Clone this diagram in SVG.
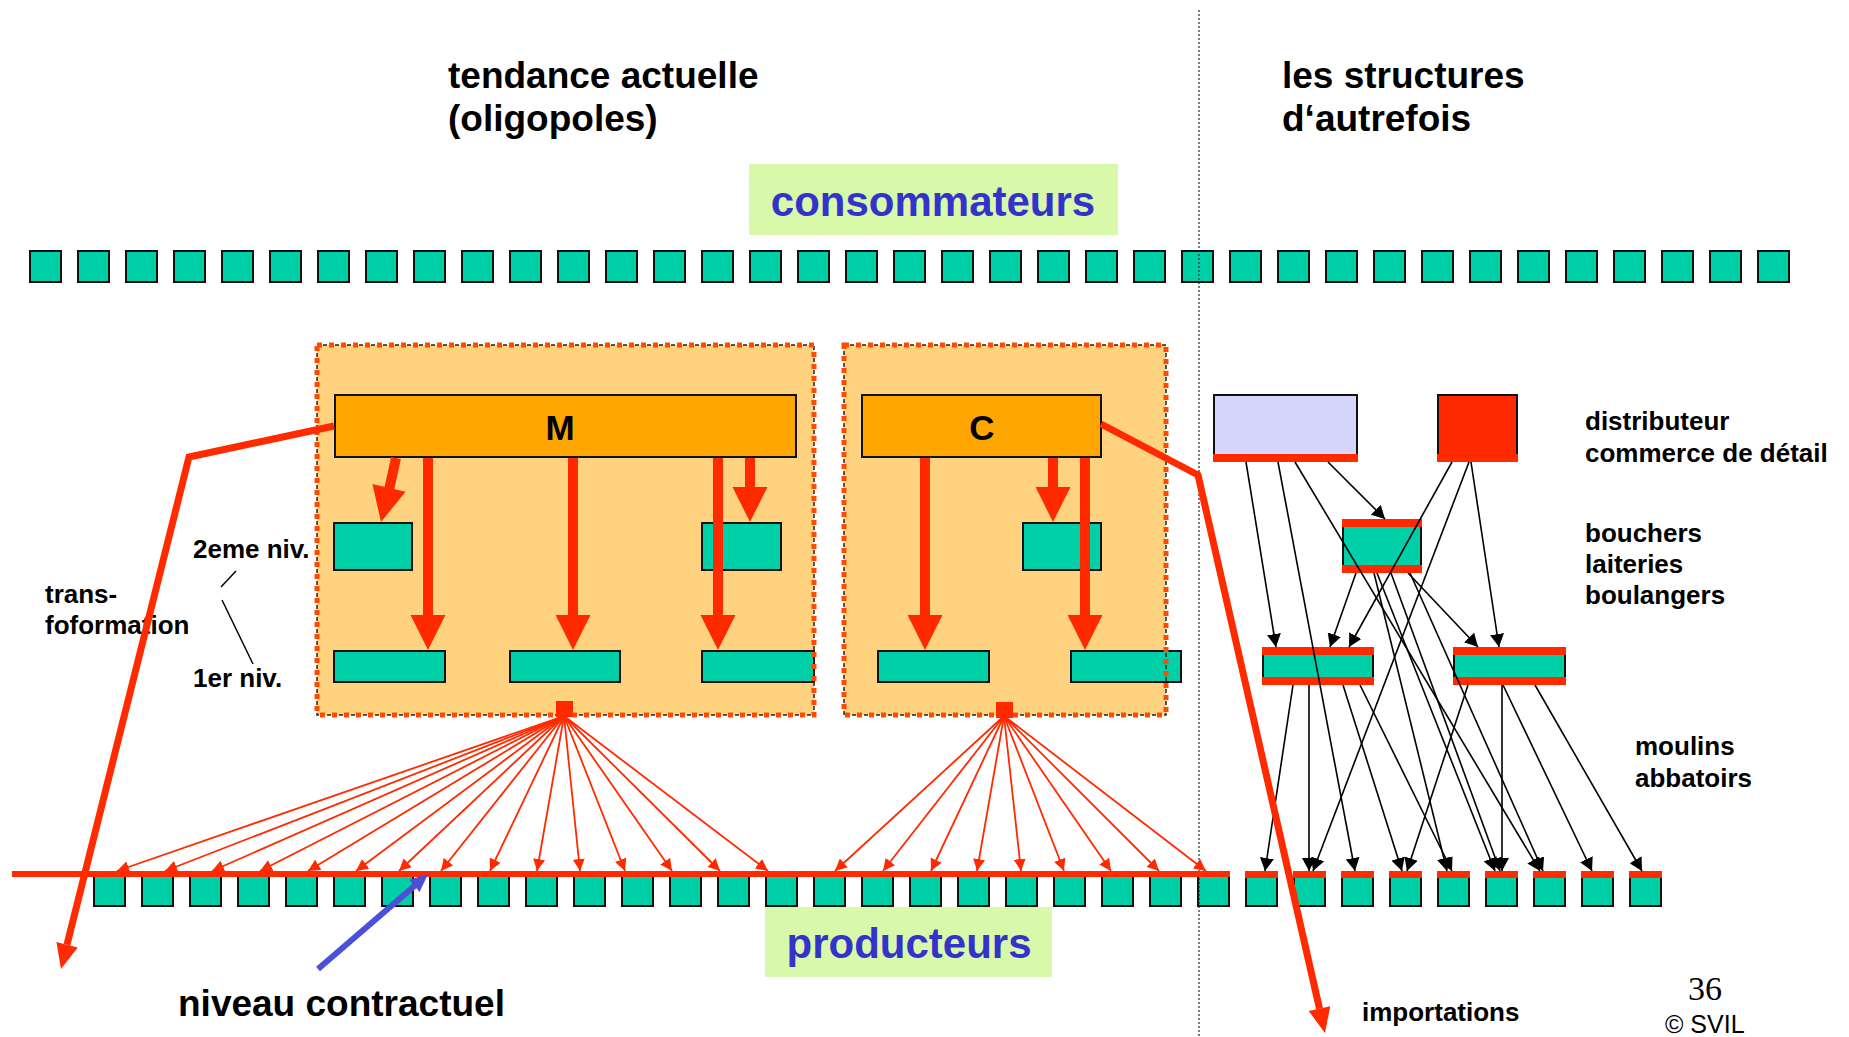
<svg xmlns="http://www.w3.org/2000/svg" width="1849" height="1037" viewBox="0 0 1849 1037">
<defs>
<style>
.sq{fill:#00D0A8;stroke:#111;stroke-width:2}
.org{fill:#FFA600;stroke:#111;stroke-width:2}
.cont{fill:#FFD27F}
.contb{fill:none;stroke:#222;stroke-width:1.5;stroke-dasharray:4 2}
.contd{fill:none;stroke:#FF4A00;stroke-width:5;stroke-dasharray:5 7}
.red{fill:#FF2A00}
.lav{fill:#D6D6FC;stroke:#111;stroke-width:2}
.rbox{fill:#FF2A00;stroke:#111;stroke-width:2}
.fan{stroke:#FF2A00;stroke-width:1.8;fill:none;marker-end:url(#rh)}
.blk{stroke:#000;stroke-width:1.6;fill:none;marker-end:url(#bh)}
.thick{stroke:#FF2A00;stroke-width:10;fill:none}
.big{stroke:#FF2A00;stroke-width:7;fill:none;stroke-linejoin:miter}
.t{font-family:"Liberation Sans",Arial,sans-serif;font-weight:bold;fill:#000}
.lbl{font-size:26px}
.ttl{font-size:37px}
.hdr{font-size:42px;fill:#3333CC}
.hbox{fill:#D7F9A9}
</style>
<marker id="rh" markerUnits="userSpaceOnUse" markerWidth="13" markerHeight="12" refX="12" refY="6" orient="auto"><path d="M0,0 L12,6 L0,12 z" fill="#FF2A00"/></marker>
<marker id="bh" markerUnits="userSpaceOnUse" markerWidth="14" markerHeight="14" refX="13" refY="7" orient="auto"><path d="M0,0 L13,7 L0,14 z" fill="#000"/></marker>
</defs>
<rect width="1849" height="1037" fill="#fff"/>

<g id="titles" class="t ttl">
<text x="448" y="88">tendance actuelle</text>
<text x="448" y="131">(oligopoles)</text>
<text x="1282" y="88">les structures</text>
<text x="1282" y="131">d‘autrefois</text>
</g>

<g id="consommateurs">
<rect class="hbox" x="749" y="164" width="369" height="71"/>
<text class="t hdr" x="933" y="216" text-anchor="middle">consommateurs</text>
</g>

<g id="consumers-row">
<rect id="c0" class="sq" x="30" y="251" width="31" height="31"/>
<rect id="c1" class="sq" x="78" y="251" width="31" height="31"/>
<rect id="c2" class="sq" x="126" y="251" width="31" height="31"/>
<rect id="c3" class="sq" x="174" y="251" width="31" height="31"/>
<rect id="c4" class="sq" x="222" y="251" width="31" height="31"/>
<rect id="c5" class="sq" x="270" y="251" width="31" height="31"/>
<rect id="c6" class="sq" x="318" y="251" width="31" height="31"/>
<rect id="c7" class="sq" x="366" y="251" width="31" height="31"/>
<rect id="c8" class="sq" x="414" y="251" width="31" height="31"/>
<rect id="c9" class="sq" x="462" y="251" width="31" height="31"/>
<rect id="c10" class="sq" x="510" y="251" width="31" height="31"/>
<rect id="c11" class="sq" x="558" y="251" width="31" height="31"/>
<rect id="c12" class="sq" x="606" y="251" width="31" height="31"/>
<rect id="c13" class="sq" x="654" y="251" width="31" height="31"/>
<rect id="c14" class="sq" x="702" y="251" width="31" height="31"/>
<rect id="c15" class="sq" x="750" y="251" width="31" height="31"/>
<rect id="c16" class="sq" x="798" y="251" width="31" height="31"/>
<rect id="c17" class="sq" x="846" y="251" width="31" height="31"/>
<rect id="c18" class="sq" x="894" y="251" width="31" height="31"/>
<rect id="c19" class="sq" x="942" y="251" width="31" height="31"/>
<rect id="c20" class="sq" x="990" y="251" width="31" height="31"/>
<rect id="c21" class="sq" x="1038" y="251" width="31" height="31"/>
<rect id="c22" class="sq" x="1086" y="251" width="31" height="31"/>
<rect id="c23" class="sq" x="1134" y="251" width="31" height="31"/>
<rect id="c24" class="sq" x="1182" y="251" width="31" height="31"/>
<rect id="c25" class="sq" x="1230" y="251" width="31" height="31"/>
<rect id="c26" class="sq" x="1278" y="251" width="31" height="31"/>
<rect id="c27" class="sq" x="1326" y="251" width="31" height="31"/>
<rect id="c28" class="sq" x="1374" y="251" width="31" height="31"/>
<rect id="c29" class="sq" x="1422" y="251" width="31" height="31"/>
<rect id="c30" class="sq" x="1470" y="251" width="31" height="31"/>
<rect id="c31" class="sq" x="1518" y="251" width="31" height="31"/>
<rect id="c32" class="sq" x="1566" y="251" width="31" height="31"/>
<rect id="c33" class="sq" x="1614" y="251" width="31" height="31"/>
<rect id="c34" class="sq" x="1662" y="251" width="31" height="31"/>
<rect id="c35" class="sq" x="1710" y="251" width="31" height="31"/>
<rect id="c36" class="sq" x="1758" y="251" width="31" height="31"/>
</g>

<g id="group-M">
<rect class="cont" x="317" y="345" width="497" height="370"/>
<g id="M-bar"><rect class="org" x="335" y="395" width="461" height="62"/><text class="t" x="560" y="440" font-size="35" text-anchor="middle">M</text></g>
<rect id="M-2a" class="sq" x="334" y="523" width="78" height="47"/>
<rect id="M-2b" class="sq" x="702" y="523" width="79" height="47"/>
<rect id="M-1a" class="sq" x="334" y="651" width="111" height="31"/>
<rect id="M-1b" class="sq" x="510" y="651" width="110" height="31"/>
<rect id="M-1c" class="sq" x="702" y="651" width="112" height="31"/>
<rect class="contb" x="317" y="345" width="497" height="370"/>
<rect class="contd" x="317" y="345" width="497" height="370"/>
<rect id="M-hub" class="red" x="556" y="701" width="17" height="16"/>
</g>

<g id="group-C">
<rect class="cont" x="844" y="345" width="322" height="370"/>
<g id="C-bar"><rect class="org" x="862" y="395" width="239" height="62"/><text class="t" x="982" y="440" font-size="35" text-anchor="middle">C</text></g>
<rect id="C-2" class="sq" x="1023" y="523" width="78" height="47"/>
<rect id="C-1a" class="sq" x="878" y="651" width="111" height="31"/>
<rect id="C-1b" class="sq" x="1071" y="651" width="110" height="31"/>
<rect class="contb" x="844" y="345" width="322" height="370"/>
<rect class="contd" x="844" y="345" width="322" height="370"/>
<rect id="C-hub" class="red" x="996" y="702" width="17" height="16"/>
</g>

<g id="producers-row">
<rect id="p0" class="sq" x="94" y="876" width="31" height="30"/>
<rect id="p1" class="sq" x="142" y="876" width="31" height="30"/>
<rect id="p2" class="sq" x="190" y="876" width="31" height="30"/>
<rect id="p3" class="sq" x="238" y="876" width="31" height="30"/>
<rect id="p4" class="sq" x="286" y="876" width="31" height="30"/>
<rect id="p5" class="sq" x="334" y="876" width="31" height="30"/>
<rect id="p6" class="sq" x="382" y="876" width="31" height="30"/>
<rect id="p7" class="sq" x="430" y="876" width="31" height="30"/>
<rect id="p8" class="sq" x="478" y="876" width="31" height="30"/>
<rect id="p9" class="sq" x="526" y="876" width="31" height="30"/>
<rect id="p10" class="sq" x="574" y="876" width="31" height="30"/>
<rect id="p11" class="sq" x="622" y="876" width="31" height="30"/>
<rect id="p12" class="sq" x="670" y="876" width="31" height="30"/>
<rect id="p13" class="sq" x="718" y="876" width="31" height="30"/>
<rect id="p14" class="sq" x="766" y="876" width="31" height="30"/>
<rect id="p15" class="sq" x="814" y="876" width="31" height="30"/>
<rect id="p16" class="sq" x="862" y="876" width="31" height="30"/>
<rect id="p17" class="sq" x="910" y="876" width="31" height="30"/>
<rect id="p18" class="sq" x="958" y="876" width="31" height="30"/>
<rect id="p19" class="sq" x="1006" y="876" width="31" height="30"/>
<rect id="p20" class="sq" x="1054" y="876" width="31" height="30"/>
<rect id="p21" class="sq" x="1102" y="876" width="31" height="30"/>
<rect id="p22" class="sq" x="1150" y="876" width="31" height="30"/>
<rect id="p23" class="sq" x="1198" y="876" width="31" height="30"/>
<rect id="p24" class="sq" x="1246" y="876" width="31" height="30"/>
<rect id="p25" class="sq" x="1294" y="876" width="31" height="30"/>
<rect id="p26" class="sq" x="1342" y="876" width="31" height="30"/>
<rect id="p27" class="sq" x="1390" y="876" width="31" height="30"/>
<rect id="p28" class="sq" x="1438" y="876" width="31" height="30"/>
<rect id="p29" class="sq" x="1486" y="876" width="31" height="30"/>
<rect id="p30" class="sq" x="1534" y="876" width="31" height="30"/>
<rect id="p31" class="sq" x="1582" y="876" width="31" height="30"/>
<rect id="p32" class="sq" x="1630" y="876" width="31" height="30"/>
<g class="red">
<rect x="1245" y="871" width="33" height="7"/>
<rect x="1293" y="871" width="33" height="7"/>
<rect x="1341" y="871" width="33" height="7"/>
<rect x="1389" y="871" width="33" height="7"/>
<rect x="1437" y="871" width="33" height="7"/>
<rect x="1485" y="871" width="33" height="7"/>
<rect x="1533" y="871" width="33" height="7"/>
<rect x="1581" y="871" width="33" height="7"/>
<rect x="1629" y="871" width="33" height="7"/>
</g>
</g>

<g id="producteurs">
<rect class="hbox" x="765" y="907" width="287" height="70"/>
<text class="t hdr" x="909" y="958" text-anchor="middle">producteurs</text>
</g>

<g id="old-distributeur"><rect class="lav" x="1214" y="395" width="143" height="66"/><rect class="red" x="1213" y="454" width="145" height="8"/></g>
<g id="old-detail"><rect class="rbox" x="1438" y="395" width="79" height="66"/><rect class="red" x="1437" y="454" width="81" height="8"/></g>
<g id="old-bouchers"><rect class="sq" x="1343" y="520" width="78" height="52"/><rect class="red" x="1342" y="519" width="80" height="8"/><rect class="red" x="1342" y="565" width="80" height="8"/></g>
<g id="old-moulins"><rect class="sq" x="1263" y="648" width="110" height="36"/><rect class="red" x="1262" y="647" width="112" height="8"/><rect class="red" x="1262" y="677" width="112" height="8"/></g>
<g id="old-abbatoirs"><rect class="sq" x="1454" y="648" width="111" height="36"/><rect class="red" x="1453" y="647" width="113" height="8"/><rect class="red" x="1453" y="677" width="113" height="8"/></g>

<g id="divider"><line x1="1199" y1="10" x2="1199" y2="1037" stroke="#222" stroke-width="1.2" stroke-dasharray="2 2"/></g>

<g id="labels" class="t lbl">
<text x="193" y="558">2eme niv.</text>
<text x="193" y="687">1er niv.</text>
<text x="45" y="603">trans-</text>
<text x="45" y="634">foformation</text>
<text x="1585" y="430">distributeur</text>
<text x="1585" y="462">commerce de détail</text>
<text x="1585" y="542">bouchers</text>
<text x="1585" y="573">laiteries</text>
<text x="1585" y="604">boulangers</text>
<text x="1635" y="755">moulins</text>
<text x="1635" y="787">abbatoirs</text>
<text x="1362" y="1021">importations</text>
<text x="178" y="1016" font-size="37">niveau contractuel</text>
</g>
<text x="1688" y="1000" font-family="'Liberation Serif','Times New Roman',serif" font-size="34" fill="#000">36</text>
<text x="1665" y="1033" font-family="'Liberation Sans',Arial,sans-serif" font-size="25" fill="#000">© SVIL</text>

<g id="connectors">
<g stroke="#000" stroke-width="1.5">
<line x1="236" y1="571" x2="221" y2="587"/>
<line x1="222" y1="600" x2="253" y2="664"/>
</g>
<!-- thick arrows in M -->
<g class="red">
<line class="thick" x1="396" y1="458" x2="389" y2="490"/>
<polygon points="381,522 405.6,491.8 372.4,484"/>
<line class="thick" x1="428" y1="458" x2="428" y2="616"/>
<polygon points="410.5,615 445.5,615 428,650"/>
<line class="thick" x1="573" y1="458" x2="573" y2="616"/>
<polygon points="555.5,615 590.5,615 573,650"/>
<line class="thick" x1="718" y1="458" x2="718" y2="616"/>
<polygon points="700.5,615 735.5,615 718,650"/>
<line class="thick" x1="750" y1="458" x2="750" y2="488"/>
<polygon points="732.5,487 767.5,487 750,522"/>
<line class="thick" x1="925" y1="458" x2="925" y2="616"/>
<polygon points="907.5,615 942.5,615 925,650"/>
<line class="thick" x1="1053" y1="458" x2="1053" y2="488"/>
<polygon points="1035.5,487 1070.5,487 1053,522"/>
<line class="thick" x1="1085" y1="458" x2="1085" y2="616"/>
<polygon points="1067.5,615 1102.5,615 1085,650"/>
</g>
<!-- fans -->
<g class="fan">
<line x1="564" y1="716" x2="117" y2="871"/>
<line x1="564" y1="716" x2="165" y2="871"/>
<line x1="564" y1="716" x2="212" y2="871"/>
<line x1="564" y1="716" x2="260" y2="871"/>
<line x1="564" y1="716" x2="308" y2="871"/>
<line x1="564" y1="716" x2="356" y2="871"/>
<line x1="564" y1="716" x2="399" y2="871"/>
<line x1="564" y1="716" x2="441" y2="871"/>
<line x1="564" y1="716" x2="490" y2="871"/>
<line x1="564" y1="716" x2="537" y2="871"/>
<line x1="564" y1="716" x2="580" y2="871"/>
<line x1="564" y1="716" x2="625" y2="871"/>
<line x1="564" y1="716" x2="672" y2="871"/>
<line x1="564" y1="716" x2="720" y2="871"/>
<line x1="564" y1="716" x2="768" y2="871"/>
<line x1="1004" y1="716" x2="835" y2="871"/>
<line x1="1004" y1="716" x2="883" y2="871"/>
<line x1="1004" y1="716" x2="931" y2="871"/>
<line x1="1004" y1="716" x2="977" y2="871"/>
<line x1="1004" y1="716" x2="1021" y2="871"/>
<line x1="1004" y1="716" x2="1064" y2="871"/>
<line x1="1004" y1="716" x2="1111" y2="871"/>
<line x1="1004" y1="716" x2="1159" y2="871"/>
<line x1="1004" y1="716" x2="1206" y2="871"/>
</g>
<line id="contract-line" x1="12" y1="874" x2="1230" y2="874" stroke="#FF2A00" stroke-width="6"/>
<!-- old structures -->
<g class="blk">
<line x1="1246" y1="462" x2="1276" y2="647"/>
<line x1="1278" y1="462" x2="1355" y2="871"/>
<line x1="1295" y1="462" x2="1540" y2="871"/>
<line x1="1328" y1="462" x2="1385" y2="519"/>
<line x1="1452" y1="462" x2="1349" y2="647"/>
<line x1="1469" y1="462" x2="1313" y2="871"/>
<line x1="1471" y1="462" x2="1499" y2="647"/>
<line x1="1356" y1="573" x2="1330" y2="647"/>
<line x1="1408" y1="573" x2="1478" y2="647"/>
<line x1="1374" y1="573" x2="1447" y2="871"/>
<line x1="1377" y1="573" x2="1495" y2="871"/>
<line x1="1391" y1="573" x2="1500" y2="871"/>
<line x1="1410" y1="573" x2="1543" y2="871"/>
<line x1="1293" y1="685" x2="1265" y2="871"/>
<line x1="1309" y1="685" x2="1309" y2="871"/>
<line x1="1343" y1="685" x2="1402" y2="871"/>
<line x1="1360" y1="685" x2="1452" y2="871"/>
<line x1="1468" y1="685" x2="1407" y2="871"/>
<line x1="1502" y1="685" x2="1502" y2="871"/>
<line x1="1503" y1="685" x2="1592" y2="871"/>
<line x1="1535" y1="685" x2="1642" y2="871"/>
</g>
<!-- big red flows -->
<polyline class="big" points="334,426 189,457 67,944.7"/>
<polygon class="red" points="61,969 77.7,947.4 56.4,942.1"/>
<polyline class="big" points="1101,424 1198,475 1319.5,1008.6"/>
<polygon class="red" points="1325,1033 1330.2,1006.2 1308.7,1011"/>
<!-- blue arrow -->
<line x1="318" y1="969" x2="415" y2="885.5" stroke="#4B50D8" stroke-width="6"/>
<polygon points="428,874 419.6,891.9 409.2,879.7" fill="#4B50D8"/>
</g>
</svg>
